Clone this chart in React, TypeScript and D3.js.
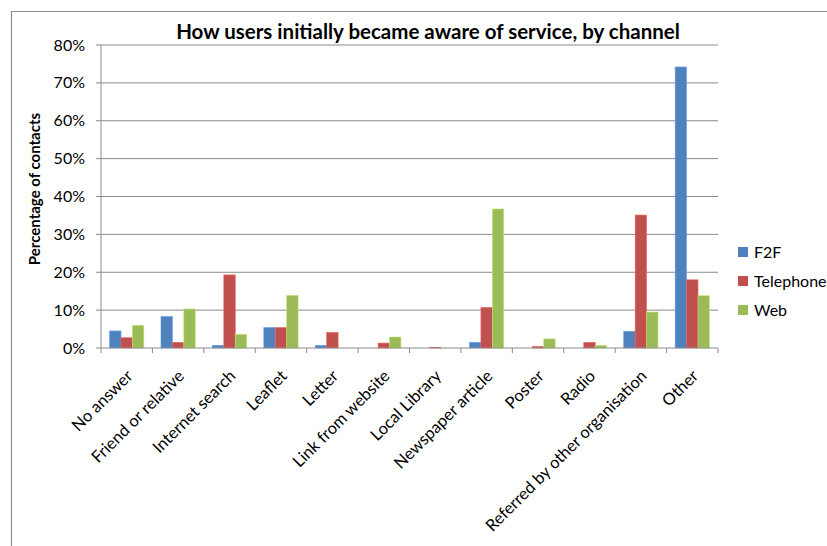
import React from "react";
import * as d3 from "d3";

const categories = [
  "No answer",
  "Friend or relative",
  "Internet search",
  "Leaflet",
  "Letter",
  "Link from website",
  "Local Library",
  "Newspaper article",
  "Poster",
  "Radio",
  "Referred by other organisation",
  "Other",
];
const seriesNames = ["F2F", "Telephone", "Web"];
const f2f = [4.5, 8.3, 0.7, 5.4, 0.7, 0, 0, 1.5, 0, 0, 4.4, 74.2];
const telephone = [2.7, 1.5, 19.3, 5.4, 4.1, 1.3, 0.2, 10.7, 0.4, 1.5, 35.1, 18.0];
const web = [6.0, 10.3, 3.6, 13.9, 0, 2.9, 0, 36.7, 2.4, 0.7, 9.5, 13.8];
const yTicks = [0, 10, 20, 30, 40, 50, 60, 70, 80];
const colors = ["#4F81BD", "#C0504D", "#9BBB59"];

const W = 827;
const H = 546;
const FONT = "Lato, 'Open Sans', sans-serif";

export default function App() {
  const series = [f2f, telephone, web];
  const left = 101;
  const right = 718;
  const top = 45;
  const bottom = 348;

  const x = d3.scaleBand<string>().domain(categories).range([left, right]).paddingInner(0).paddingOuter(0);
  const bw = x.bandwidth() / 4.5;
  const y = d3.scaleLinear().domain([0, 80]).range([bottom, top]);

  return (
    <div style={{ position: "absolute", left: 0, top: 0 }}>
      <svg width={W} height={H} style={{ display: "block" }} fontFamily={FONT}>
        <rect x={0} y={0} width={W} height={H} fill="#fff" />
        {/* chart frame */}
        <path d={`M11.5,${H + 2} V11.5 H${W + 2}`} fill="none" stroke="#8c8c8c" strokeWidth={1.2} />
        {/* title */}
        <text x={428} y={39} textAnchor="middle" fontSize={20.5} fontWeight="bold" fill="#000">
          How users initially became aware of service, by channel
        </text>
        {/* gridlines */}
        {yTicks.map((t) => (
          <g key={t}>
            {t > 0 && (
              <line x1={left} x2={right} y1={y(t)} y2={y(t)} stroke="#8a8a8a" strokeWidth={1} />
            )}
            <line x1={left - 5} x2={left} y1={y(t)} y2={y(t)} stroke="#8a8a8a" strokeWidth={1} />
            <text x={85} y={y(t)} dy="0.35em" textAnchor="end" fontSize={16} fill="#000">
              {t}%
            </text>
          </g>
        ))}
        {/* bars */}
        {categories.map((c, i) => (
          <g key={c}>
            {series.map((s, j) =>
              s[i] > 0 ? (
                <rect
                  key={j}
                  x={(x(c) as number) + 0.75 * bw + j * bw}
                  y={y(s[i])}
                  width={bw}
                  height={bottom - y(s[i])}
                  fill={colors[j]}
                  stroke={d3.color(colors[j])!.brighter(0.6).formatHex()}
                  strokeWidth={0.6}
                />
              ) : null
            )}
          </g>
        ))}
        {/* axes */}
        <line x1={left} x2={left} y1={top} y2={bottom} stroke="#8a8a8a" strokeWidth={1} />
        <line x1={left} x2={right} y1={bottom} y2={bottom} stroke="#8a8a8a" strokeWidth={1} />
        {d3.range(categories.length + 1).map((k) => {
          const xx = left + k * x.step();
          return <line key={k} x1={xx} x2={xx} y1={bottom} y2={bottom + 5} stroke="#8a8a8a" strokeWidth={1} />;
        })}
        {/* x labels */}
        {categories.map((c) => {
          const cx = (x(c) as number) + x.bandwidth() / 2 + 7;
          const cy = 377;
          return (
            <text
              key={c}
              x={cx}
              y={cy}
              textAnchor="end"
              fontSize={16.5}
              fill="#000"
              transform={`rotate(-45, ${cx}, ${cy})`}
            >
              {c}
            </text>
          );
        })}
        {/* y title */}
        <text
          x={0}
          y={0}
          transform={`translate(40, 189) rotate(-90)`}
          textAnchor="middle"
          fontSize={15}
          fontWeight="bold"
          fill="#000"
        >
          Percentage of contacts
        </text>
        {/* legend */}
        {seriesNames.map((n, j) => (
          <g key={n} transform={`translate(738, ${252 + j * 29})`}>
            <rect x={0} y={-5} width={10} height={10} fill={colors[j]} />
            <text x={16} y={0} dy="0.35em" fontSize={16} fill="#000">
              {n}
            </text>
          </g>
        ))}
      </svg>
    </div>
  );
}
